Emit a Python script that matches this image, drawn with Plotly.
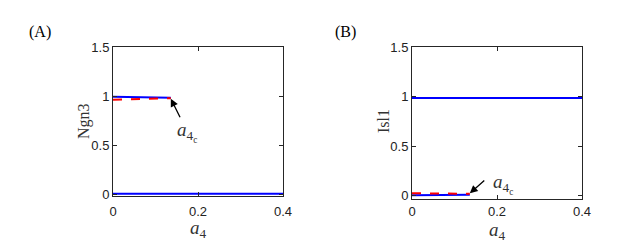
import plotly.graph_objects as go

# Panel A: Ngn3 vs a4
a4_full = [0.0, 0.4]
a4_branch = [0.0, 0.136]
ngn3_low_stable = [0.01, 0.01]
ngn3_high_stable = [0.995, 0.985]
ngn3_unstable = [0.965, 0.98]

# Panel B: Isl1 vs a4
isl1_high_stable = [0.985, 0.985]
isl1_low_stable = [0.005, 0.01]
isl1_unstable = [0.025, 0.02]

a4c = 0.136

xticks = [0, 0.2, 0.4]
xticklabels = ["0", "0.2", "0.4"]
yticks = [0, 0.5, 1, 1.5]
yticklabels = ["0", "0.5", "1", "1.5"]

BLUE = "#0000ff"
RED = "#ff0000"

# page body has an 8px margin; compensate
OFF = 8
W, H = 641 - OFF, 245 - OFF


def px(X):
    return (X - OFF) / W


def py(Y):
    return 1 - (Y - OFF) / H


fig = go.Figure()

# Panel A
fig.add_trace(go.Scatter(x=a4_full, y=ngn3_low_stable, mode="lines",
                         line=dict(color=BLUE, width=2), xaxis="x", yaxis="y"))
fig.add_trace(go.Scatter(x=a4_branch, y=ngn3_high_stable, mode="lines",
                         line=dict(color=BLUE, width=2), xaxis="x", yaxis="y"))
fig.add_trace(go.Scatter(x=a4_branch, y=ngn3_unstable, mode="lines",
                         line=dict(color=RED, width=2, dash="dash"), xaxis="x", yaxis="y"))

# Panel B
fig.add_trace(go.Scatter(x=a4_full, y=isl1_high_stable, mode="lines",
                         line=dict(color=BLUE, width=2), xaxis="x2", yaxis="y2"))
fig.add_trace(go.Scatter(x=a4_branch, y=isl1_low_stable, mode="lines",
                         line=dict(color=BLUE, width=2), xaxis="x2", yaxis="y2"))
fig.add_trace(go.Scatter(x=a4_branch, y=isl1_unstable, mode="lines",
                         line=dict(color=RED, width=2, dash="dash"), xaxis="x2", yaxis="y2"))

tickfont = dict(family="Liberation Sans, Arial, sans-serif", size=13, color="#222222")
serif = "Liberation Serif, Times New Roman, serif"

axis_common = dict(
    showgrid=False, zeroline=False, showline=True, linecolor="#262626", linewidth=1,
    mirror="ticks", ticks="inside", ticklen=4, tickcolor="#262626", tickfont=tickfont,
    automargin=False,
)

fig.update_layout(
    width=W, height=H,
    margin=dict(l=0, r=0, t=0, b=0),
    paper_bgcolor="white", plot_bgcolor="white",
    showlegend=False,
    xaxis=dict(domain=[px(113), px(283)], range=[0, 0.4], tickvals=xticks,
               ticktext=xticklabels, anchor="y", ticklabelstandoff=3, **axis_common),
    yaxis=dict(domain=[py(196), py(47)], range=[-0.012, 1.5], tickvals=yticks,
               ticktext=yticklabels, anchor="x", **axis_common),
    xaxis2=dict(domain=[px(412), px(582)], range=[0, 0.4], tickvals=xticks,
                ticktext=xticklabels, anchor="y2", ticklabelstandoff=0, **axis_common),
    yaxis2=dict(domain=[py(199), py(47)], range=[-0.033, 1.5], tickvals=yticks,
                ticktext=yticklabels, anchor="x2", **axis_common),
)

title_font = dict(family=serif, size=16, color="#333333")
xt_font = dict(family=serif, size=19, color="#333333")
C = dict(xanchor="center", yanchor="middle", showarrow=False, xref="paper", yref="paper")

# axis titles
fig.add_annotation(x=px(198), y=py(229), text="<i>a</i><sub>4</sub>", font=xt_font, **C)
fig.add_annotation(x=px(497), y=py(231), text="<i>a</i><sub>4</sub>", font=xt_font, **C)
fig.add_annotation(x=px(84), y=py(121), text="Ngn3", textangle=-90, font=title_font, **C)
fig.add_annotation(x=px(384), y=py(121), text="Isl1", textangle=-90, font=title_font, **C)

ann_font = dict(family=serif, size=19, color="#333333")
fig.add_annotation(x=a4c, y=0.975, xref="x", yref="y", ax=10, ay=20,
                   text="", showarrow=True, arrowhead=2, arrowsize=1.2,
                   arrowwidth=1.3, arrowcolor="black")
fig.add_annotation(x=0.175, y=0.64, xref="x", yref="y", xanchor="center", yanchor="middle",
                   text="<i>a</i><sub>4<sub>c</sub></sub>", showarrow=False, font=ann_font)

fig.add_annotation(x=a4c, y=0.025, xref="x2", yref="y2", ax=16, ay=-14,
                   text="", showarrow=True, arrowhead=2, arrowsize=1.2,
                   arrowwidth=1.3, arrowcolor="black")
fig.add_annotation(x=0.215, y=0.12, xref="x2", yref="y2", xanchor="center", yanchor="middle",
                   text="<i>a</i><sub>4<sub>c</sub></sub>", showarrow=False, font=ann_font)

fig.add_annotation(x=px(40), y=py(32), text="(A)",
                   font=dict(family=serif, size=16, color="black"), **C)
fig.add_annotation(x=px(345), y=py(32), text="(B)",
                   font=dict(family=serif, size=16, color="black"), **C)

fig.write_html("out.html")
